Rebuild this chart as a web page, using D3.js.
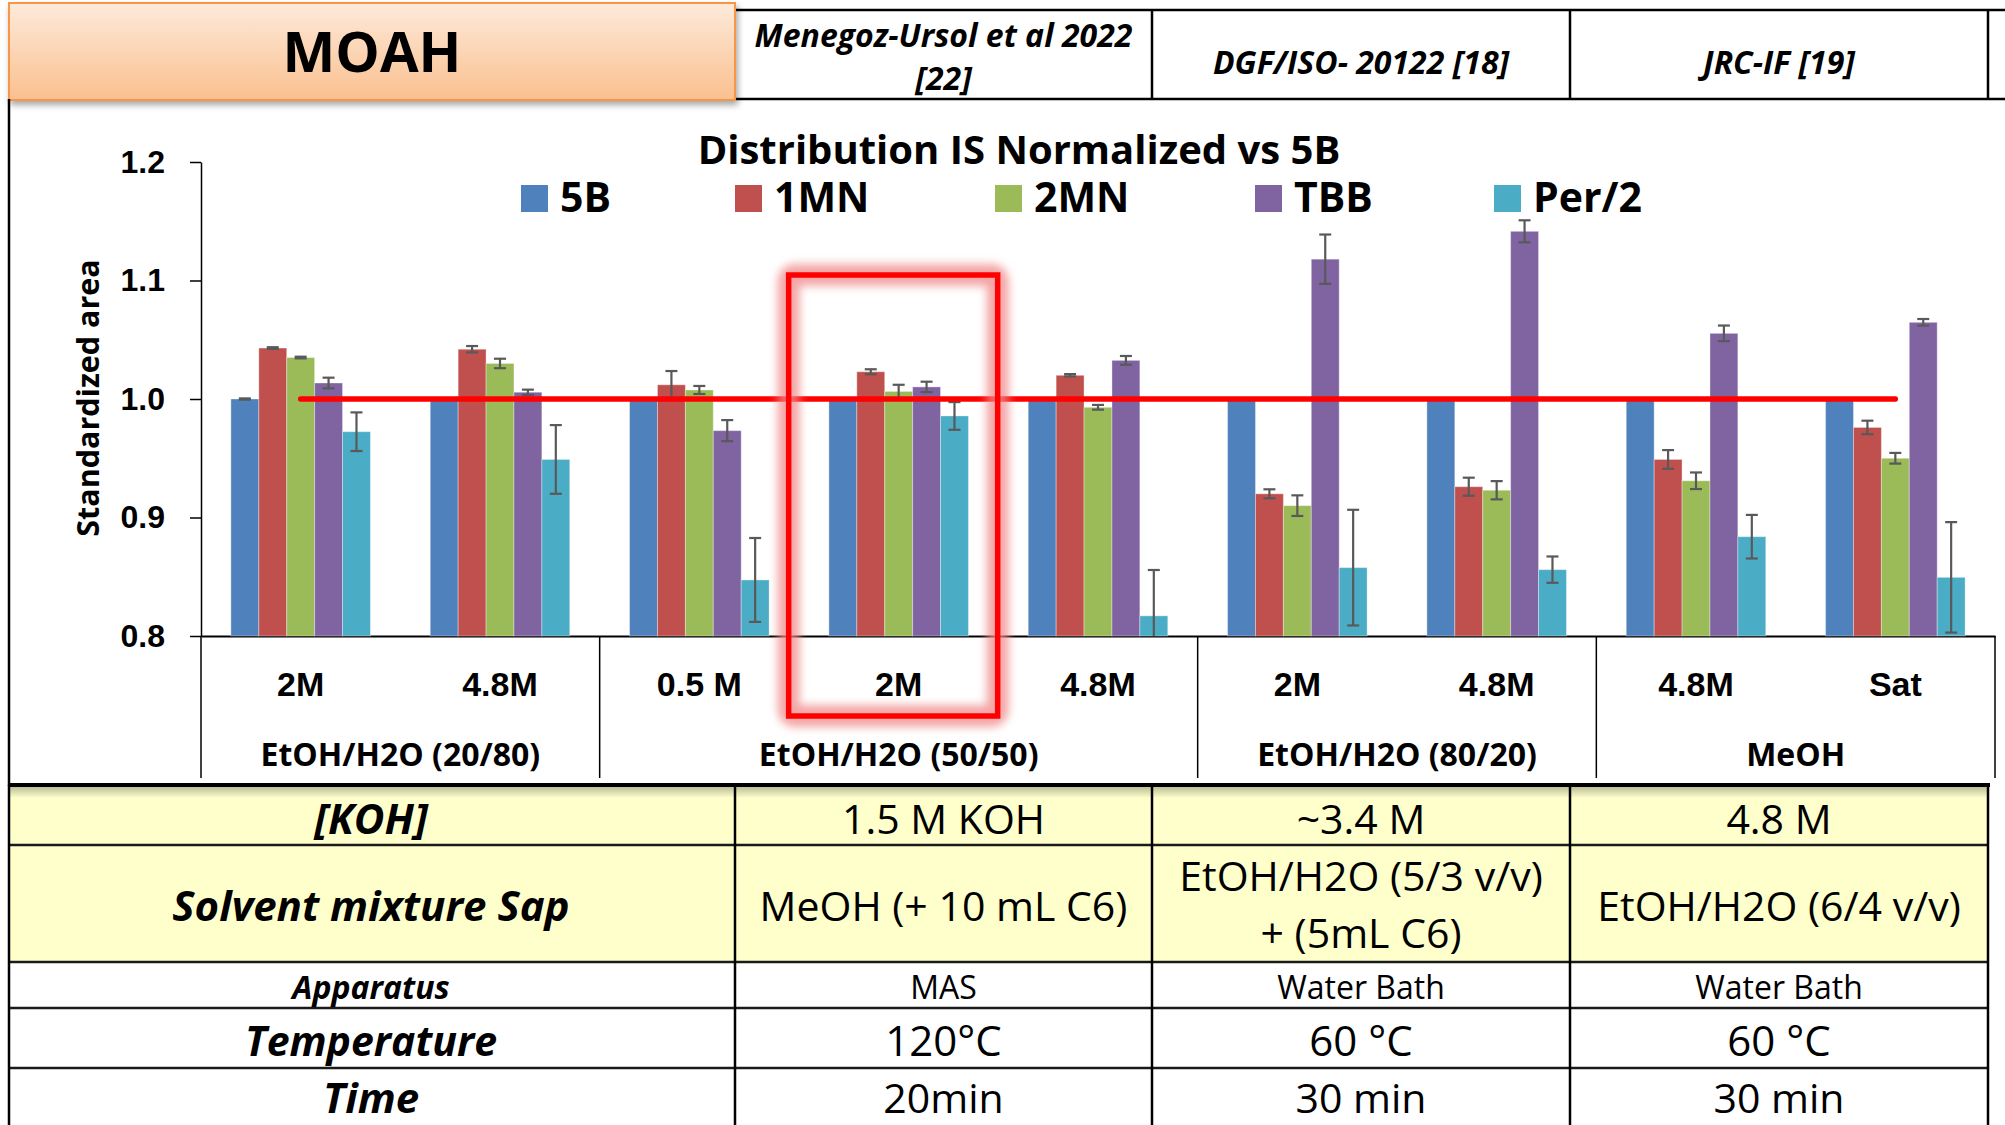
<!DOCTYPE html>
<html>
<head>
<meta charset="utf-8">
<script src="https://cdnjs.cloudflare.com/ajax/libs/d3/7.8.5/d3.min.js"></script>
<style>
  body{margin:0;background:#fff;}
  svg{font-family:"Open Sans",sans-serif;}
</style>
</head>
<body>
<script>
// categories
var concLabels=["2M","4.8M","0.5 M","2M","4.8M","2M","4.8M","4.8M","Sat"];
var solventNames=["EtOH/H2O (20/80)","EtOH/H2O (50/50)","EtOH/H2O (80/20)","MeOH"];
var solventSizes=[2,3,2,2];
var seriesNames=["5B","1MN","2MN","TBB","Per/2"];
var seriesColors=["#4F81BD","#C0504D","#9BBB59","#8064A2","#4BACC6"];
// values
var val5B=[1,1,1,1,1,1,1,1,1];
var err5B=[0.0005,0.0005,0.0005,0.0005,0.0005,0.0005,0.0005,0.0005,0.0005];
var val1MN=[1.043,1.042,1.012,1.023,1.020,0.920,0.926,0.949,0.976];
var err1MN=[0.0007,0.0027,0.0116,0.0021,0.001,0.0038,0.0076,0.0079,0.0057];
var val2MN=[1.035,1.030,1.0076,1.0064,0.993,0.910,0.923,0.931,0.950];
var err2MN=[0.0007,0.004,0.0034,0.0056,0.002,0.0087,0.0077,0.007,0.0045];
var valTBB=[1.0135,1.0057,0.9733,1.0102,1.0326,1.118,1.1415,1.0554,1.0647];
var errTBB=[0.0045,0.0022,0.0089,0.0044,0.0037,0.0208,0.0093,0.0066,0.0028];
var valPer=[0.9724,0.949,0.8473,0.9857,0.817,0.8577,0.856,0.8838,0.8495];
var errPer=[0.0163,0.029,0.0354,0.0117,0.0387,0.0488,0.0111,0.0184,0.0466];
var yTicks=[0.8,0.9,1.0,1.1,1.2];
var refValue=1.0;
var highlightIdx=3;
var chartTitle="Distribution IS Normalized vs 5B";
var yTitle="Standardized area";
// tables
var blockTitle="MOAH";
var methodHeads=[["Menegoz-Ursol et al 2022","[22]"],["DGF/ISO- 20122 [18]"],["JRC-IF [19]"]];
var rowHeads=["[KOH]","Solvent mixture Sap","Apparatus","Temperature","Time"];
var colMenegoz=[["1.5 M KOH"],["MeOH (+ 10 mL C6)"],["MAS"],["120°C"],["20min"]];
var colDGF=[["~3.4 M"],["EtOH/H2O (5/3 v/v)","+ (5mL C6)"],["Water Bath"],["60 °C"],["30 min"]];
var colJRC=[["4.8 M"],["EtOH/H2O (6/4 v/v)"],["Water Bath"],["60 °C"],["30 min"]];

var allVals=[val5B,val1MN,val2MN,valTBB,valPer];
var allErrs=[err5B,err1MN,err2MN,errTBB,errPer];
var data=concLabels.map(function(c,i){
  return seriesNames.map(function(s,j){
    return {i:i,s:j,v:allVals[j][i],e:allErrs[j][i]};
  });
});

var wide=2005,high=1125;
var svg=d3.select("body").append("svg").attr("width",wide).attr("height",high);
var defs=svg.append("defs");
var grad=defs.append("linearGradient").attr("id","moah").attr("x1",0).attr("y1",0).attr("x2",0).attr("y2",1);
grad.append("stop").attr("offset","0%").attr("stop-color","#FDEADA");
grad.append("stop").attr("offset","100%").attr("stop-color","#FAC08F");
var shade=defs.append("linearGradient").attr("id","shade").attr("x1",0).attr("y1",0).attr("x2",0).attr("y2",1);
shade.append("stop").attr("offset","0%").attr("stop-color","#000").attr("stop-opacity",0.28);
shade.append("stop").attr("offset","100%").attr("stop-color","#000").attr("stop-opacity",0);
defs.append("filter").attr("id","drop").attr("x","-5%").attr("y","-20%").attr("width","110%").attr("height","150%")
  .append("feDropShadow").attr("dx",2).attr("dy",4).attr("stdDeviation",3).attr("flood-opacity",0.35);
defs.append("filter").attr("id","glow").attr("x","-30%").attr("y","-30%").attr("width","160%").attr("height","160%")
  .append("feGaussianBlur").attr("stdDeviation",4);

function txt(g,x,y,s,size,weight,style){
  return g.append("text")
    .attr("x",x).attr("y",y)
    .attr("text-anchor","middle")
    .style("font-size",size+"px")
    .style("font-weight",weight||"normal")
    .style("font-style",style||"normal")
    .text(s);
}

// ---------- header ----------
var colX=[9,735,1152,1570,1988];
var head=svg.append("g");
head.append("line").attr("x1",735).attr("x2",2005).attr("y1",10).attr("y2",10).attr("stroke","#000").attr("stroke-width",2.5);
head.append("line").attr("x1",735).attr("x2",2005).attr("y1",99).attr("y2",99).attr("stroke","#000").attr("stroke-width",2.5);
[1152,1570,1988].forEach(function(x){
  head.append("line").attr("x1",x).attr("x2",x).attr("y1",10).attr("y2",99).attr("stroke","#000").attr("stroke-width",2.5);
});
head.append("rect").attr("x",9).attr("y",3).attr("width",726).attr("height",97)
  .attr("fill","url(#moah)").attr("stroke","#F79646").attr("stroke-width",2).attr("filter","url(#drop)");
txt(head,372,72,blockTitle,56,"bold");
methodHeads.forEach(function(h,k){
  var cx=(colX[k+1]+colX[k+2])/2;
  if (h.length===2){
    txt(head,cx,47,h[0],32,"bold","italic");
    txt(head,cx,90,h[1],32,"bold","italic");
  }
  else{
    txt(head,cx,74,h[0],32,"bold","italic");
  }
});

// ---------- chart ----------
var plotLeft=201,plotRight=1995,plotTop=162,plotBase=636;
svg.append("line").attr("x1",9).attr("x2",9).attr("y1",99).attr("y2",786).attr("stroke","#000").attr("stroke-width",2.5);

var y=d3.scaleLinear().domain([0.8,1.2]).range([plotBase,plotTop]);
var x0=d3.scaleBand().domain(d3.range(concLabels.length)).range([plotLeft,plotRight]).paddingInner(0.3).paddingOuter(0.15);
var x1=d3.scaleBand().domain(d3.range(seriesNames.length)).range([0,x0.bandwidth()]);
var color=d3.scaleOrdinal().domain(d3.range(seriesNames.length)).range(seriesColors);

var yaxis=d3.axisLeft(y).tickValues(yTicks).tickFormat(d3.format(".1f")).tickSize(11).tickSizeOuter(0).tickPadding(25);
var gy=svg.append("g").attr("transform","translate("+plotLeft+",0)").call(yaxis);
gy.selectAll("text").style("font-size","32px").style("font-weight","bold").attr("fill","#000");
gy.selectAll("line,path").attr("stroke","#000").attr("stroke-width",1.5);

var xaxis=d3.axisBottom(x0).tickSize(0).tickSizeOuter(0).tickFormat(function(i){return concLabels[i];});
var gx=svg.append("g").attr("transform","translate(0,"+plotBase+")").call(xaxis);
gx.selectAll("text").attr("y",60).attr("dy",0).style("font-size","34px").style("font-weight","bold").attr("fill","#000");
gx.select(".domain").attr("stroke","#000").attr("stroke-width",2);

// solvent group separators and labels
var step=x0.step();
var bounds=[0];
solventSizes.forEach(function(n,k){bounds.push(bounds[k]+n);});
bounds.forEach(function(b){
  var bx=plotLeft+b*step;
  svg.append("line").attr("x1",bx).attr("x2",bx).attr("y1",plotBase).attr("y2",778).attr("stroke","#000").attr("stroke-width",1.5);
});
solventNames.forEach(function(n,k){
  var cx=plotLeft+(bounds[k]+bounds[k+1])/2*step;
  txt(svg,cx,766,n,32,"bold");
});

// bars
var groups=svg.selectAll("g.grp").data(data).enter().append("g")
  .attr("class","grp")
  .attr("transform",function(d,i){return "translate("+x0(i)+",0)";});
groups.selectAll("rect").data(function(d){return d;}).enter().append("rect")
  .attr("x",function(d){return x1(d.s);})
  .attr("width",x1.bandwidth())
  .attr("y",function(d){return y(d.v);})
  .attr("height",function(d){return plotBase-y(d.v);})
  .attr("fill",function(d){return color(d.s);})
  .attr("stroke","#fff").attr("stroke-opacity",0.35).attr("stroke-width",1);
// error bars
var eb=groups.selectAll("g.err").data(function(d){return d;}).enter().append("g").attr("class","err")
  .attr("stroke","#595959").attr("stroke-width",2.2);
function lo(d){return Math.min(plotBase,y(d.v-d.e));}
eb.append("line")
  .attr("x1",function(d){return x1(d.s)+x1.bandwidth()/2;})
  .attr("x2",function(d){return x1(d.s)+x1.bandwidth()/2;})
  .attr("y1",function(d){return y(d.v+d.e);})
  .attr("y2",lo);
eb.append("line")
  .attr("x1",function(d){return x1(d.s)+x1.bandwidth()/2-6;})
  .attr("x2",function(d){return x1(d.s)+x1.bandwidth()/2+6;})
  .attr("y1",function(d){return y(d.v+d.e);})
  .attr("y2",function(d){return y(d.v+d.e);});
eb.filter(function(d){return y(d.v-d.e)<plotBase;}).append("line")
  .attr("x1",function(d){return x1(d.s)+x1.bandwidth()/2-6;})
  .attr("x2",function(d){return x1(d.s)+x1.bandwidth()/2+6;})
  .attr("y1",function(d){return y(d.v-d.e);})
  .attr("y2",function(d){return y(d.v-d.e);});

// reference line
var mid=x0.bandwidth()/2;
svg.append("line")
  .attr("x1",x0(0)+mid).attr("x2",x0(concLabels.length-1)+mid)
  .attr("y1",y(refValue)).attr("y2",y(refValue))
  .attr("stroke","#FF0000").attr("stroke-width",5.5).attr("stroke-linecap","round");

// highlight box
var hc=x0(highlightIdx)+mid;
var hx=hc-110,hw=209,hy=275,hh=441;
svg.append("rect").attr("x",hx).attr("y",hy).attr("width",hw).attr("height",hh).attr("rx",6)
  .attr("fill","none").attr("stroke","#F08888").attr("stroke-opacity",0.75).attr("stroke-width",22).attr("filter","url(#glow)");
svg.append("rect").attr("x",hx).attr("y",hy).attr("width",hw).attr("height",hh)
  .attr("fill","none").attr("stroke","#FF0000").attr("stroke-width",5.5);

// title and legend
txt(svg,1019,164,chartTitle,40,"bold");
var legX=[521,735,995,1255,1494];
var leg=svg.selectAll("g.leg").data(seriesNames).enter().append("g")
  .attr("class","leg")
  .attr("transform",function(d,i){return "translate("+legX[i]+",185)";});
leg.append("rect").attr("width",27).attr("height",27).attr("fill",function(d,i){return color(i);});
leg.append("text").attr("x",39).attr("y",27).style("font-size","41px").style("font-weight","bold").text(function(d){return d;});

svg.append("text")
  .attr("transform","translate(99,398) rotate(-90)")
  .attr("text-anchor","middle")
  .style("font-size","30.5px").style("font-weight","bold")
  .text(yTitle);

// ---------- bottom table ----------
var rowY=[785,845,962,1008,1068,1130];
var rowFill=["#FFFFCC","#FFFFCC","#fff","#fff","#fff"];
var rowBase=[834,921,999,1056,1113];
var rowSize=[41,41,32,42,41];
var headSize=[42,42,32,41,42];
var tbl=svg.append("g");
rowHeads.forEach(function(r,k){
  tbl.append("rect").attr("x",9).attr("y",rowY[k]).attr("width",1979).attr("height",rowY[k+1]-rowY[k]).attr("fill",rowFill[k]);
});
tbl.append("rect").attr("x",9).attr("y",786).attr("width",1979).attr("height",12).attr("fill","url(#shade)");
rowY.slice(1,5).forEach(function(yy){
  tbl.append("line").attr("x1",9).attr("x2",1988).attr("y1",yy).attr("y2",yy).attr("stroke","#1a1a1a").attr("stroke-width",2.5);
});
tbl.append("line").attr("x1",9).attr("x2",1990).attr("y1",785).attr("y2",785).attr("stroke","#000").attr("stroke-width",4);
colX.forEach(function(x){
  tbl.append("line").attr("x1",x).attr("x2",x).attr("y1",785).attr("y2",1125).attr("stroke","#000").attr("stroke-width",2.5);
});
rowHeads.forEach(function(r,k){
  txt(tbl,371,rowBase[k],r,headSize[k],"bold","italic");
});
[colMenegoz,colDGF,colJRC].forEach(function(col,c){
  var cx=(colX[c+1]+colX[c+2])/2;
  col.forEach(function(lines,k){
    if (lines.length===2){
      txt(tbl,cx,891,lines[0],rowSize[k]);
      txt(tbl,cx,948,lines[1],rowSize[k]);
    }
    else{
      txt(tbl,cx,rowBase[k],lines[0],rowSize[k]);
    }
  });
});
</script>
</body>
</html>
